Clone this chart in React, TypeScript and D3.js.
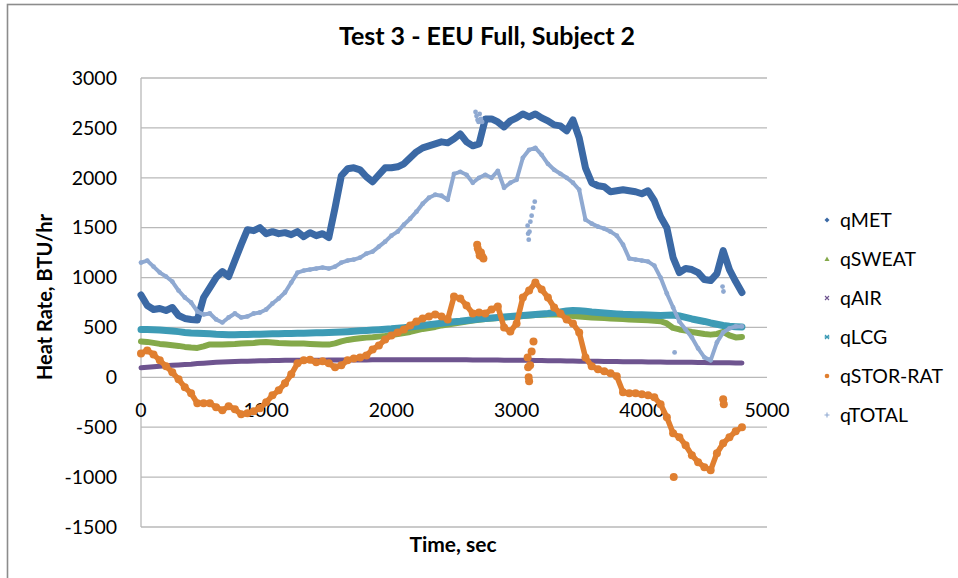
import React from 'react';
import { scaleLinear, line, range } from 'd3';

// sample times (sec), every 50 s
const times = range(0, 4801, 50);

const qMET = [
  825, 720, 680, 690, 670, 700, 620, 590, 580, 575,
  800, 900, 1000, 1060, 1010, 1170, 1330, 1480, 1470, 1500,
  1440, 1460, 1440, 1450, 1430, 1460, 1410, 1450, 1420, 1440,
  1400, 1700, 2020, 2090, 2100, 2080, 2010, 1960, 2030, 2100,
  2100, 2110, 2140, 2200, 2260, 2300, 2320, 2340, 2360, 2350,
  2390, 2440, 2360, 2320, 2340, 2590, 2590, 2560, 2510, 2570,
  2600, 2640, 2610, 2640, 2600, 2570, 2530, 2520, 2470, 2580,
  2400, 2100, 1950, 1920, 1910, 1860, 1870, 1880, 1870, 1860,
  1840, 1870, 1770, 1610, 1500, 1200, 1050, 1090, 1080, 1050,
  980, 970, 1040, 1270, 1080, 960, 850,
];

const qSWEAT = [
  360, 355, 345, 335, 328, 322, 315, 305, 298, 295,
  310, 330, 328, 330, 332, 335, 340, 342, 345, 352,
  355, 350, 345, 342, 340, 340, 338, 335, 332, 330,
  328, 340, 360, 375, 385, 392, 398, 402, 408, 415,
  425, 435, 445, 455, 470, 485, 495, 505, 520, 530,
  540, 550, 560, 570, 578, 585, 590, 595, 600, 605,
  610, 615, 620, 625, 628, 630, 632, 630, 625, 615,
  610, 605, 600, 598, 595, 590, 588, 585, 580, 578,
  575, 572, 568, 562, 540, 495, 480, 468, 455, 445,
  435, 428, 435, 455, 420, 400, 405,
];

const qAIR = [
  95, 100, 105, 110, 115, 120, 124, 128, 132, 138,
  142, 146, 150, 153, 156, 158, 160, 162, 164, 166,
  167, 168, 169, 170, 170, 171, 171, 172, 172, 172,
  173, 173, 173, 174, 174, 174, 174, 175, 175, 175,
  175, 175, 175, 175, 175, 175, 175, 175, 175, 175,
  175, 175, 175, 174, 174, 174, 173, 173, 172, 172,
  171, 170, 170, 169, 168, 167, 166, 165, 164, 163,
  162, 161, 160, 160, 159, 158, 158, 157, 156, 156,
  155, 154, 154, 153, 152, 152, 151, 150, 150, 149,
  148, 147, 146, 146, 145, 144, 143,
];

const qLCG = [
  480, 480, 478, 475, 470, 465, 458, 450, 445, 442,
  440, 436, 432, 430, 428, 428, 430, 430, 432, 433,
  435, 436, 438, 440, 440, 442, 443, 445, 446, 448,
  450, 452, 455, 458, 462, 466, 470, 474, 478, 482,
  486, 492, 498, 505, 512, 520, 528, 535, 542, 550,
  556, 562, 570, 578, 585, 590, 595, 600, 605, 610,
  615, 620, 625, 630, 635, 640, 648, 655, 665, 670,
  668, 662, 655, 650, 645, 640, 636, 632, 630, 628,
  626, 625, 622, 620, 622, 625, 615, 600, 585, 572,
  560, 545, 532, 520, 512, 508, 505,
];

const qSTOR = [
  240, 270, 230, 170, 110, 50, -20, -100, -160, -260,
  -260, -260, -300, -330, -290, -320, -370, -360, -340, -310,
  -250, -180, -130, -60, 30, 140, 170, 175, 150, 160,
  140, 100, 120, 170, 190, 200, 220, 280, 320, 380,
  420, 450, 480, 520, 560, 590, 610, 630, 610, 580,
  810, 790, 720, 640, 650, 640, 680, 710, 500, 460,
  540, 800, 870, 950, 880, 800, 700, 640, 580, 540,
  450, 200, 110, 80, 60, 40, 10, -150, -160, -160,
  -170, -180, -200, -270, -400, -560, -600, -680, -780, -850,
  -900, -930, -760, -660, -600, -540, -500,
];

const qTOTAL = [
  1150, 1170, 1110, 1050, 1010, 960, 870, 800, 750, 660,
  630, 640, 580, 550, 600, 640, 600, 610, 640, 650,
  680, 740, 790, 850, 950, 1050, 1070, 1080, 1090, 1100,
  1090, 1110, 1150, 1170, 1180, 1200, 1240, 1260, 1310, 1360,
  1420, 1460, 1530, 1590, 1660, 1740, 1800, 1830, 1820, 1780,
  2040, 2060, 2030, 1950, 2000, 2030, 2000, 2070, 1900, 1950,
  1980, 2200, 2280, 2300, 2230, 2140, 2080, 2040, 2000, 1950,
  1880, 1580, 1540, 1510, 1490, 1460, 1420, 1330, 1190, 1180,
  1170, 1160, 1120, 1000, 840, 700, 560, 480, 400, 290,
  200, 170, 350, 450, 490, 510, 510,
];

// stray clusters away from the main trace
const storExtraT = [2685, 2690, 2700, 2705, 2715, 2725, 2735, 3088, 3092, 3096, 3100, 3108, 3120, 3135, 4255, 4650, 4655];
const storExtraV = [1330, 1290, 1260, 1220, 1250, 1210, 1190, 200, 100, 0, -40, 120, 260, 360, -1000, -220, -270];
const totalExtraT = [2672, 2680, 2688, 2696, 2705, 2715, 2725, 3088, 3092, 3097, 3103, 3110, 3120, 3132, 3145, 4262, 4645, 4652];
const totalExtraV = [2660, 2620, 2580, 2560, 2640, 2590, 2560, 1520, 1440, 1380, 1460, 1560, 1620, 1700, 1760, 250, 910, 860];

const yTicks = [3000, 2500, 2000, 1500, 1000, 500, 0, -500, -1000, -1500];
const xTicks = [0, 1000, 2000, 3000, 4000, 5000];

const series = [
  { name: 'qMET', values: qMET, color: '#3b69a5', width: 7, dot: 0, marker: 'diamond' },
  { name: 'qSWEAT', values: qSWEAT, color: '#84a94a', width: 6, dot: 0, marker: 'triangle' },
  { name: 'qAIR', values: qAIR, color: '#6e548f', width: 5, dot: 0, marker: 'x' },
  { name: 'qLCG', values: qLCG, color: '#3d9bb5', width: 7, dot: 0, marker: 'star' },
  { name: 'qSTOR-RAT', values: qSTOR, color: '#e07f30', width: 5.5, dot: 4, marker: 'circle' },
  { name: 'qTOTAL', values: qTOTAL, color: '#8fa9d1', width: 4, dot: 2.4, marker: 'plus' },
];

const font = 'Lato, "Open Sans", sans-serif';

const Marker = ({ kind, color, x, y }: { kind: string; color: string; x: number; y: number }) => {
  if (kind === 'diamond') return <path d={`M${x},${y - 2.5}L${x + 2.5},${y}L${x},${y + 2.5}L${x - 2.5},${y}Z`} fill={color} />;
  if (kind === 'triangle') return <path d={`M${x},${y - 2.5}L${x + 2.5},${y + 2}L${x - 2.5},${y + 2}Z`} fill={color} />;
  if (kind === 'circle') return <circle cx={x} cy={y} r={2.3} fill={color} />;
  if (kind === 'x')
    return <path d={`M${x - 2},${y - 2}L${x + 2},${y + 2}M${x + 2},${y - 2}L${x - 2},${y + 2}`} stroke={color} strokeWidth={1.1} />;
  if (kind === 'plus')
    return <path d={`M${x - 2.5},${y}L${x + 2.5},${y}M${x},${y - 2.5}L${x},${y + 2.5}`} stroke={color} strokeWidth={1.1} />;
  return (
    <path
      d={`M${x - 2},${y - 2}L${x + 2},${y + 2}M${x + 2},${y - 2}L${x - 2},${y + 2}M${x - 2.5},${y}L${x + 2.5},${y}`}
      stroke={color}
      strokeWidth={1.2}
    />
  );
};

const App = () => {
  const x = scaleLinear().domain([0, 5000]).range([141, 767]);
  const y = scaleLinear().domain([-1500, 3000]).range([527, 78]);
  const path = line<number>()
    .x((_, i) => x(times[i]))
    .y((v) => y(v));

  return (
    <svg width={958} height={578} style={{ position: 'absolute', left: 0, top: 0, background: '#fff' }} fontFamily={font}>
      <rect x={7.5} y={4.5} width={1000} height={700} fill="#fff" stroke="#8c8c8c" strokeWidth={1.6} />

      {/* grid */}
      {yTicks.map((t) => (
        <line key={t} x1={141} x2={767} y1={y(t)} y2={y(t)} stroke="#b9b9b9" strokeWidth={1.3} />
      ))}
      <line x1={141} x2={141} y1={78} y2={527} stroke="#b9b9b9" strokeWidth={1.3} />

      {/* y ticks */}
      {yTicks.map((t) => (
        <text key={t} x={117} y={y(t)} dy="0.35em" textAnchor="end" fontSize={19.5} fill="#000">
          {t}
        </text>
      ))}
      {/* x ticks sit on the zero line */}
      {xTicks.map((t) => (
        <text key={t} x={x(t)} y={417} textAnchor="middle" fontSize={19.5} fill="#000">
          {t}
        </text>
      ))}

      {/* series */}
      {series.map((s) => (
        <g key={s.name}>
          <path
            d={path(s.values) || ''}
            fill="none"
            stroke={s.color}
            strokeWidth={s.width}
            strokeLinejoin="round"
            strokeLinecap="round"
          />
          {s.dot > 0 && s.values.map((v, i) => <circle key={i} cx={x(times[i])} cy={y(v)} r={s.dot} fill={s.color} />)}
          {s.name === 'qSTOR-RAT' &&
            storExtraT.map((t, i) => <circle key={'e' + i} cx={x(t)} cy={y(storExtraV[i])} r={4} fill={s.color} />)}
          {s.name === 'qTOTAL' &&
            totalExtraT.map((t, i) => <circle key={'e' + i} cx={x(t)} cy={y(totalExtraV[i])} r={2.4} fill={s.color} />)}
        </g>
      ))}

      {/* titles */}
      <text x={487} y={45} textAnchor="middle" fontSize={25} fontWeight="bold" fill="#000">
        Test 3 - EEU Full, Subject 2
      </text>
      <text x={453} y={552} textAnchor="middle" fontSize={21} fontWeight="bold" fill="#000">
        Time, sec
      </text>
      <text transform="translate(52,297) rotate(-90)" textAnchor="middle" fontSize={20} fontWeight="bold" fill="#000">
        Heat Rate, BTU/hr
      </text>

      {/* legend */}
      {series.map((s, i) => (
        <g key={s.name}>
          <Marker kind={s.marker} color={s.color} x={827} y={220 + i * 39} />
          <text x={840} y={220 + i * 39} dy="0.35em" fontSize={19.5} fill="#000">
            {s.name}
          </text>
        </g>
      ))}
    </svg>
  );
};

export default App;
